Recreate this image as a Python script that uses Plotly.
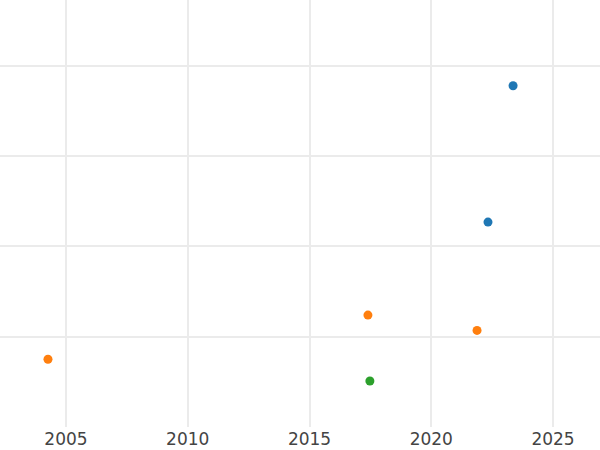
import plotly.graph_objects as go

# data
blue_x = [2023.36, 2022.33]
blue_y = [3.78, 2.27]
orange_x = [2004.26, 2017.40, 2021.88]
orange_y = [0.75, 1.24, 1.07]
green_x = [2017.48]
green_y = [0.51]

x_ticks = [2005, 2010, 2015, 2020, 2025]
y_grid = [1, 2, 3, 4]

fig = go.Figure()
for name, xs, ys, col in [("A", blue_x, blue_y, "#1f77b4"),
                          ("B", orange_x, orange_y, "#ff7f0e"),
                          ("C", green_x, green_y, "#2ca02c")]:
    fig.add_trace(go.Scatter(x=xs, y=ys, mode="markers", name=name,
                             marker=dict(color=col, size=9)))

fig.update_layout(
    width=600, height=450,
    margin=dict(l=0, r=0, t=0, b=23),
    paper_bgcolor="white", plot_bgcolor="white",
    showlegend=False,
    font=dict(family="DejaVu Sans", size=17, color="#444"),
)
fig.update_xaxes(range=[2002.29, 2026.93], tickvals=x_ticks,
                 showgrid=True, gridcolor="#ebebeb", gridwidth=1.5,
                 zeroline=False, showline=False, ticks="")
fig.update_yaxes(range=[0, 4.73], tickvals=y_grid, showticklabels=False,
                 showgrid=True, gridcolor="#ebebeb", gridwidth=1.5,
                 zeroline=False, showline=False, ticks="")

fig.write_html("out.html", config={"displayModeBar": False},
               post_script="document.body.style.margin='0';document.body.style.overflow='hidden';")
